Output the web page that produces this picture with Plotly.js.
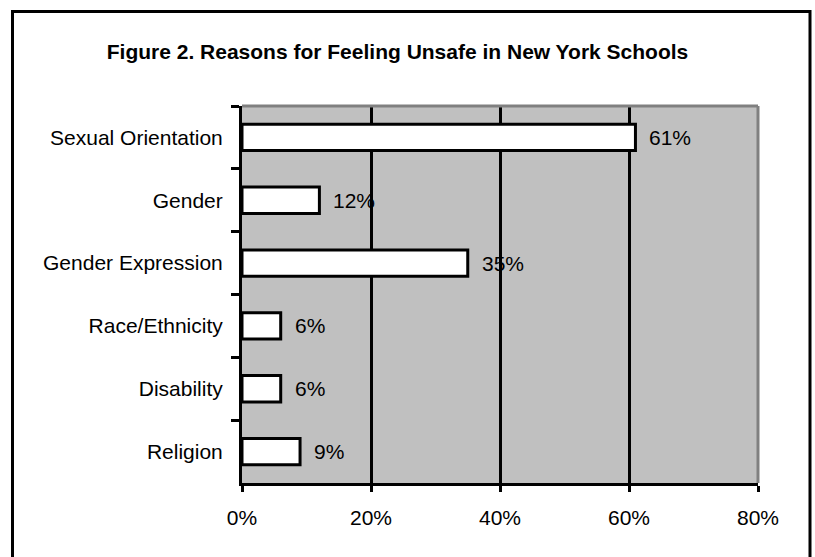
<!DOCTYPE html>
<html>
<head>
<meta charset="utf-8">
<script src="https://cdn.plot.ly/plotly-3.0.1.min.js"></script>
<style>
  html, body { margin: 0; padding: 0; background: #ffffff; }
  #chart { width: 815px; height: 557px; }
</style>
</head>
<body>
<div id="chart"></div>
<script>
// Reasons students gave for feeling unsafe at school (percent of respondents)
const reasons = ["Sexual Orientation", "Gender", "Gender Expression", "Race/Ethnicity", "Disability", "Religion"];
const percents = [61, 12, 35, 6, 6, 9];
const xTickValues = [0, 20, 40, 60, 80];
const xTickLabels = ["0%", "20%", "40%", "60%", "80%"];

const FONT = "Liberation Sans, Arial, Helvetica, sans-serif";

const bars = {
  type: "bar",
  orientation: "h",
  x: percents,
  y: reasons,
  width: 0.42,
  marker: { color: "#ffffff", line: { color: "#000000", width: 3 } },
  hoverinfo: "skip"
};

// value labels sit just to the right of each bar end
const valueLabels = reasons.map((r, i) => ({
  x: percents[i],
  y: r,
  xref: "x",
  yref: "y",
  text: percents[i] + "%",
  showarrow: false,
  xanchor: "left",
  yanchor: "middle",
  xshift: 12,
  font: { family: FONT, size: 21, color: "#000000" }
}));

// plot-area geometry in pixels, used to place the outer frame in paper units
const L = 242, R = 758, T = 106, B = 483;
const px = v => (v - L) / (R - L);
const py = v => (B - v) / (B - T);

const layout = {
  width: 815,
  height: 557,
  margin: { l: L, r: 815 - R, t: T, b: 557 - B, pad: 0 },
  paper_bgcolor: "#ffffff",
  plot_bgcolor: "#c0c0c0",
  showlegend: false,
  title: {
    text: "<b>Figure 2. Reasons for Feeling Unsafe in New York Schools</b>",
    font: { family: FONT, size: 21, color: "#000000" },
    xref: "container",
    yref: "container",
    x: 397.5 / 815,
    xanchor: "center",
    y: 1 - 52 / 557,
    yanchor: "middle"
  },
  xaxis: {
    range: [0, 80],
    tickvals: xTickValues,
    ticktext: xTickLabels,
    ticks: "outside",
    ticklen: 6,
    tickwidth: 3,
    tickcolor: "#000000",
    showgrid: true,
    gridcolor: "#000000",
    gridwidth: 3,
    zeroline: false,
    showline: true,
    linecolor: "#000000",
    linewidth: 3,
    ticklabelstandoff: 8,
    tickfont: { family: FONT, size: 21, color: "#000000" },
    fixedrange: true
  },
  yaxis: {
    type: "category",
    categoryorder: "array",
    categoryarray: reasons,
    range: [reasons.length - 0.5, -0.5],
    tickson: "boundaries",
    ticks: "outside",
    ticklen: 8,
    tickwidth: 3,
    tickcolor: "#000000",
    showgrid: false,
    zeroline: false,
    showline: true,
    linecolor: "#000000",
    linewidth: 3,
    ticklabelstandoff: 12,
    tickfont: { family: FONT, size: 21, color: "#000000" },
    fixedrange: true
  },
  annotations: valueLabels,
  shapes: [
    // grey edge along the top and right of the plot area
    { type: "line", xref: "paper", yref: "paper", x0: 0, x1: 1, y0: 1, y1: 1,
      line: { color: "#808080", width: 3 }, layer: "above" },
    { type: "line", xref: "paper", yref: "paper", x0: 1, x1: 1, y0: 0, y1: 1,
      line: { color: "#808080", width: 3 }, layer: "above" },
    // outer frame around the whole figure
    { type: "rect", xref: "paper", yref: "paper",
      x0: px(12.5), x1: px(810), y0: py(565), y1: py(11.5),
      line: { color: "#000000", width: 3 }, fillcolor: "rgba(0,0,0,0)", layer: "above" }
  ],
  bargap: 0.58
};

Plotly.newPlot("chart", [bars], layout, { staticPlot: true, displayModeBar: false });
</script>
</body>
</html>
